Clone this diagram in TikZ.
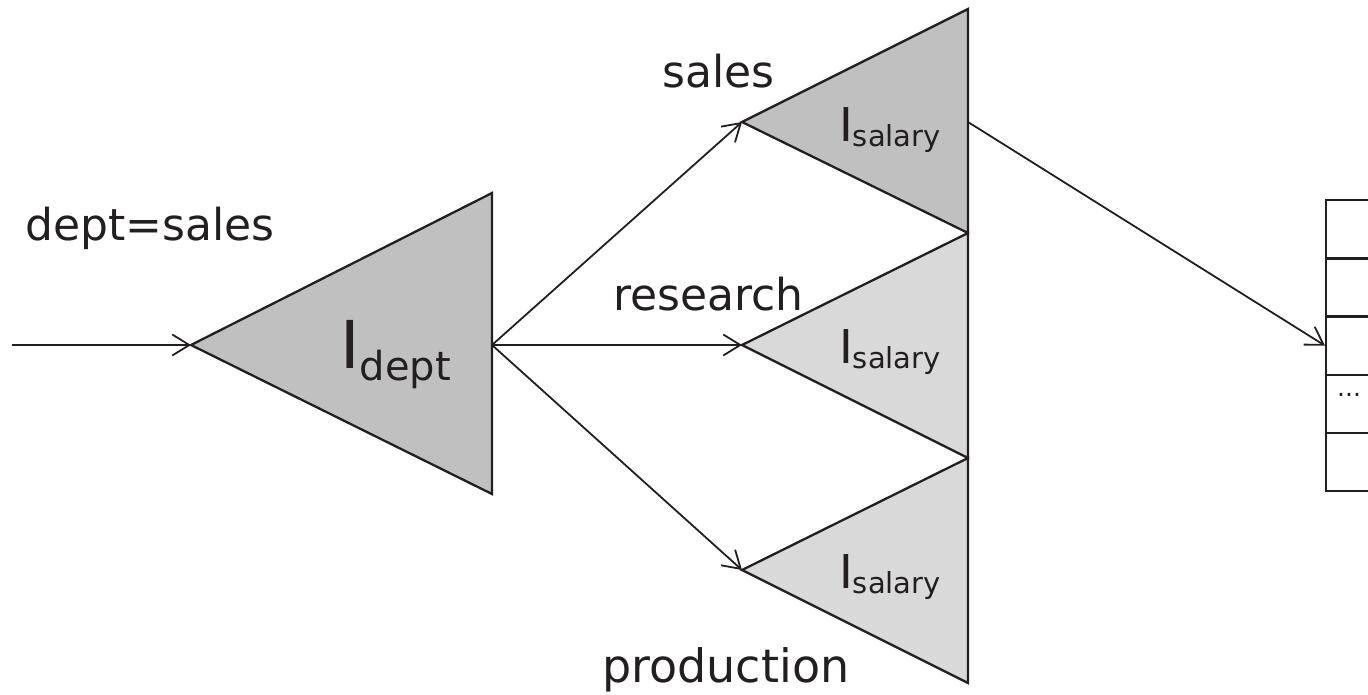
\documentclass[tikz,border=0pt]{standalone}
\usepackage{fontspec}
\setmainfont{DejaVu Sans}
\usetikzlibrary{arrows.meta}
\definecolor{ink}{RGB}{35,31,32}
\definecolor{idxdark}{RGB}{192,192,192}
\definecolor{idxlight}{RGB}{217,217,217}
\newcommand{\idxlabel}[4]{{\fontsize{#1}{#1}\selectfont I}\raisebox{-#3}{\fontsize{#2}{#2}\selectfont #4}}
\tikzset{
    tri/.style={draw=ink, line width=2.3pt},
    link/.style={draw=ink, line width=1.8pt, -{Straight Barb[length=17pt,width=21pt,line width=1.8pt]}},
    lbl/.style={anchor=base west, inner sep=0pt, text=ink, font=\fontsize{44}{52}\selectfont},
    idx/.style={anchor=base west, inner sep=0pt, text=ink},
    slot/.style={draw=ink, line width=2.3pt, rectangle, minimum width=80pt, minimum height=58.2pt, anchor=north west, inner sep=0pt}
}

\begin{document}
\begin{tikzpicture}[x=1pt, y=-1pt]
    \useasboundingbox (0,0) rectangle (1368,694);

    \coordinate (start) at (12,345);
    \coordinate (dept) at (191,345);
    \coordinate (deptout) at (492,345);
    \coordinate (sales) at (742,122);
    \coordinate (salesout) at (968,122);
    \coordinate (research) at (742,345);
    \coordinate (production) at (742,570);

    % index on dept
    \draw[tri, fill=idxdark] (dept) -- (492,193) -- (492,494) -- cycle;
    \node[idx] (ldept) at (340,368) {\idxlabel{66}{40}{12pt}{dept}};

    % indexes on salary
    \draw[tri, fill=idxlight] (research) -- (968,233) -- (968,458) -- cycle;
    \draw[tri, fill=idxlight] (production) -- (968,458) -- (968,683) -- cycle;
    \draw[tri, fill=idxdark] (sales) -- (968,9) -- (968,233) -- cycle;
    \node[idx] (lsales) at (839,141) {\idxlabel{46.6}{29}{5pt}{salary}};
    \node[idx] (lresearch) at (839,363) {\idxlabel{46.6}{29}{5pt}{salary}};
    \node[idx] (lproduction) at (839,588) {\idxlabel{46.6}{29}{5pt}{salary}};

    % table
    \node[slot] (r1) at (1325,199) {};
    \node[slot] (r2) at (1325,257.2) {};
    \node[slot] (r3) at (1325,315.4) {};
    \node[slot] (r4) at (1325,373.6) {};
    \node[slot] (r5) at (1325,431.8) {};
    \node[idx, font=\fontsize{25}{25}\selectfont] (dots) at (1337,396) {...};

    \draw[link] (start) -- (dept);
    \draw[link] (deptout) -- (sales);
    \draw[link] (deptout) -- (research);
    \draw[link] (deptout) -- (production);
    \draw[link] (salesout) -- (r3.west);

    \node[lbl] (query) at (25.5,240) {dept=sales};
    \node[lbl] (tsales) at (662.5,87) {sales};
    \node[lbl] (tresearch) at (613,310) {research};
    \node[lbl, font=\fontsize{46}{52}\selectfont] (tproduction) at (602,682) {production};
\end{tikzpicture}
\end{document}
